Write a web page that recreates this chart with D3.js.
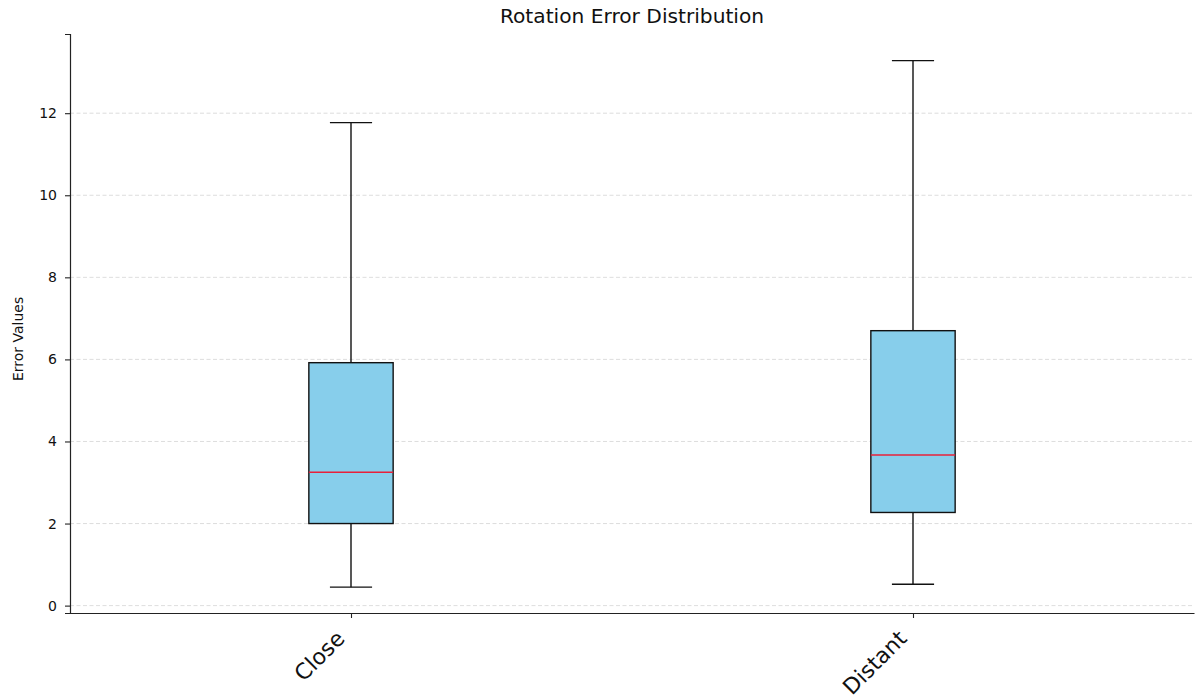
<!DOCTYPE html>
<html>
<head>
<meta charset="utf-8">
<script src="https://cdn.jsdelivr.net/npm/d3@7"></script>
<style>
  body { margin: 0; background: #fff; }
  svg { font-family: "DejaVu Sans", sans-serif; }
</style>
</head>
<body>
<svg id="chart" width="1196" height="699"></svg>
<script>
// data
const groups = ["Close", "Distant"];
const whiskerLow = [0.45, 0.52];
const q1 = [2.0, 2.27];
const median = [3.25, 3.67];
const q3 = [5.92, 6.70];
const whiskerHigh = [11.77, 13.28];
const yTicks = [0, 2, 4, 6, 8, 10, 12];

const margin = {top: 34, right: 2, bottom: 86, left: 70},
  width = 1196 - margin.left - margin.right,
  height = 699 - margin.top - margin.bottom;

const svg = d3.select("#chart");

const g = svg.append("g")
  .attr("transform", `translate(${margin.left}, ${margin.top})`);

// matplotlib style positions 1..n with 0.5 padding
const x = d3.scaleLinear()
  .domain([0.5, groups.length + 0.5])
  .range([0, width]);

const y = d3.scaleLinear()
  .domain([-0.18, 13.93])
  .range([height, 0]);

const boxW = x(1.15) - x(1);
const capW = boxW / 2;

// grid
g.append("g")
  .selectAll("line")
  .data(yTicks)
  .join("line")
    .attr("x1", 0)
    .attr("x2", width)
    .attr("y1", d => y(d))
    .attr("y2", d => y(d))
    .attr("stroke", "#d4d4d4")
    .attr("stroke-width", 0.8)
    .attr("stroke-dasharray", "4,2.5");

// y axis
const yAxis = g.append("g")
  .call(d3.axisLeft(y).tickValues(yTicks).tickSize(5).tickPadding(8).tickFormat(d3.format("d")));
yAxis.select(".domain").attr("stroke", "#222").attr("stroke-width", 1.2);
yAxis.selectAll(".tick line").attr("stroke", "#222").attr("stroke-width", 1.1);
yAxis.selectAll(".tick text")
  .attr("font-size", 14)
  .attr("fill", "#111")
  .attr("font-family", "DejaVu Sans");

// x axis
const xAxis = g.append("g")
  .attr("transform", `translate(0, ${height})`)
  .call(d3.axisBottom(x).tickValues(groups.map((d, i) => i + 1)).tickSize(5).tickSizeOuter(0).tickFormat(""));
xAxis.select(".domain").attr("stroke", "#222").attr("stroke-width", 1.2);
xAxis.selectAll(".tick line").attr("stroke", "#222").attr("stroke-width", 1.1);

g.append("g")
  .selectAll("text")
  .data(groups)
  .join("text")
    .attr("transform", (d, i) => `translate(${x(i + 1) - 5}, ${height + 27}) rotate(-45)`)
    .attr("text-anchor", "end")
    .attr("font-size", 22)
    .attr("fill", "#111")
    .text(d => d);

// boxes
const box = g.append("g")
  .selectAll("g")
  .data(groups)
  .join("g");

// whiskers
box.append("line")
  .attr("x1", (d, i) => x(i + 1))
  .attr("x2", (d, i) => x(i + 1))
  .attr("y1", (d, i) => y(whiskerLow[i]))
  .attr("y2", (d, i) => y(q1[i]))
  .attr("stroke", "#111").attr("stroke-width", 1.4);
box.append("line")
  .attr("x1", (d, i) => x(i + 1))
  .attr("x2", (d, i) => x(i + 1))
  .attr("y1", (d, i) => y(q3[i]))
  .attr("y2", (d, i) => y(whiskerHigh[i]))
  .attr("stroke", "#111").attr("stroke-width", 1.4);

// caps
box.append("line")
  .attr("x1", (d, i) => x(i + 1) - capW / 2)
  .attr("x2", (d, i) => x(i + 1) + capW / 2)
  .attr("y1", (d, i) => y(whiskerLow[i]))
  .attr("y2", (d, i) => y(whiskerLow[i]))
  .attr("stroke", "#111").attr("stroke-width", 1.4);
box.append("line")
  .attr("x1", (d, i) => x(i + 1) - capW / 2)
  .attr("x2", (d, i) => x(i + 1) + capW / 2)
  .attr("y1", (d, i) => y(whiskerHigh[i]))
  .attr("y2", (d, i) => y(whiskerHigh[i]))
  .attr("stroke", "#111").attr("stroke-width", 1.4);

// box body
box.append("rect")
  .attr("x", (d, i) => x(i + 1) - boxW / 2)
  .attr("width", boxW)
  .attr("y", (d, i) => y(q3[i]))
  .attr("height", (d, i) => y(q1[i]) - y(q3[i]))
  .attr("fill", "#87ceeb")
  .attr("stroke", "#111")
  .attr("stroke-width", 1.4);

// median
box.append("line")
  .attr("x1", (d, i) => x(i + 1) - boxW / 2)
  .attr("x2", (d, i) => x(i + 1) + boxW / 2)
  .attr("y1", (d, i) => y(median[i]))
  .attr("y2", (d, i) => y(median[i]))
  .attr("stroke", "#e8203a").attr("stroke-width", 1.4);

// title
svg.append("text")
  .attr("x", margin.left + width / 2)
  .attr("y", 23)
  .attr("text-anchor", "middle")
  .attr("font-size", 20.2)
  .attr("fill", "#111")
  .text("Rotation Error Distribution");

// y label
svg.append("text")
  .attr("transform", `translate(23, ${margin.top + y(6.5)}) rotate(-90)`)
  .attr("text-anchor", "middle")
  .attr("font-size", 14)
  .attr("fill", "#111")
  .text("Error Values");
</script>
</body>
</html>
